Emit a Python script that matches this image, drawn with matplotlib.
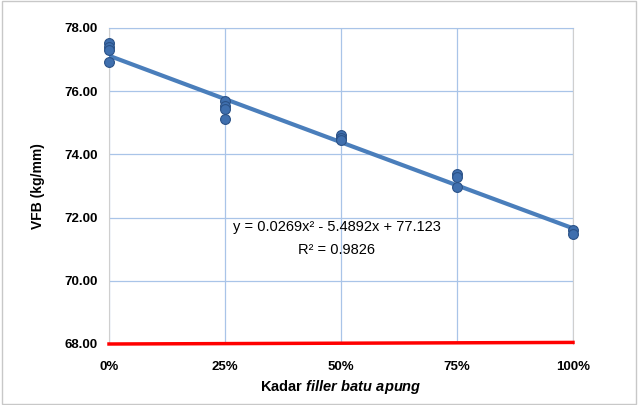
import numpy as np
import matplotlib
matplotlib.use("Agg")
import matplotlib.pyplot as plt

# Data
x_levels = [0.0, 0.0, 0.0, 0.0, 0.25, 0.25, 0.25, 0.25, 0.5, 0.5, 0.5, 0.75, 0.75, 0.75, 1.0, 1.0]
vfb = [77.53, 77.40, 77.30, 76.93, 75.68, 75.52, 75.45, 75.12, 74.62, 74.52, 74.45, 73.38, 73.28, 72.97, 71.62, 71.48]
trend_coef = [0.0269, -5.4892, 77.123]   # quadratic trendline coefficients
ref_line_x = [0.0, 1.0]
ref_line_y = [68.0, 68.05]
x_ticks = [0, 0.25, 0.5, 0.75, 1.0]
x_ticklabels = ["0%", "25%", "50%", "75%", "100%"]
y_ticks = [68, 70, 72, 74, 76, 78]
eq_text = "y = 0.0269x² - 5.4892x + 77.123"
r2_text = "R² = 0.9826"

plt.rcParams['font.family'] = ['Liberation Sans', 'DejaVu Sans']
plt.rcParams['mathtext.fontset'] = 'custom'
plt.rcParams['mathtext.it'] = 'Liberation Sans:italic:bold'
plt.rcParams['mathtext.rm'] = 'Liberation Sans:bold'

fig = plt.figure(figsize=(6.38, 4.05), dpi=100)
ax = fig.add_axes([109/638, 1-344/405, (573-109)/638, (344-28)/405])

# border around chart
fig.patches.append(plt.Rectangle((0.003, 0.003), 0.994, 0.994, transform=fig.transFigure,
                                 fill=False, edgecolor='#c8c8c8', linewidth=1))

ax.set_xlim(0, 1)
ax.set_ylim(68, 78)
ax.set_xticks(x_ticks)
ax.set_xticklabels(x_ticklabels, fontsize=9.5, fontweight='bold')
ax.set_yticks(y_ticks)
ax.set_yticklabels([f"{v:.2f}" for v in y_ticks], fontsize=9.5, fontweight='bold')
ax.tick_params(length=0, pad=12)
ax.tick_params(axis='y', pad=8)
ax.grid(True, color='#a9c4e8', linewidth=0.9)
ax.set_axisbelow(True)
for s in ['left', 'right']:
    ax.spines[s].set_color('#cfcfcf')
ax.spines['top'].set_color('#a9c4e8')
ax.spines['bottom'].set_visible(False)

xx = np.linspace(0, 1, 100)
ax.plot(xx, np.polyval(trend_coef, xx), color='#4a7ebb', linewidth=3, zorder=3)
ax.scatter(x_levels, vfb, s=50, color='#3f6fae', edgecolors='#2b5287', linewidths=0.8, zorder=4, clip_on=False)
ax.plot(ref_line_x, ref_line_y, color='#ff0000', linewidth=2.5, zorder=3, clip_on=False)

ax.text(0.491, 71.70, eq_text, fontsize=10.5, ha='center', va='center', family='Liberation Sans')
ax.text(0.491, 70.97, r2_text, fontsize=10.5, ha='center', va='center', family='Liberation Sans')

ax.set_ylabel("VFB (kg/mm)", fontsize=10, fontweight='bold', labelpad=14)
ax.set_xlabel(r"Kadar $\it{filler\ batu\ apung}$", fontsize=10.5, fontweight='bold', labelpad=4)

fig.savefig("out.png", dpi=100)
